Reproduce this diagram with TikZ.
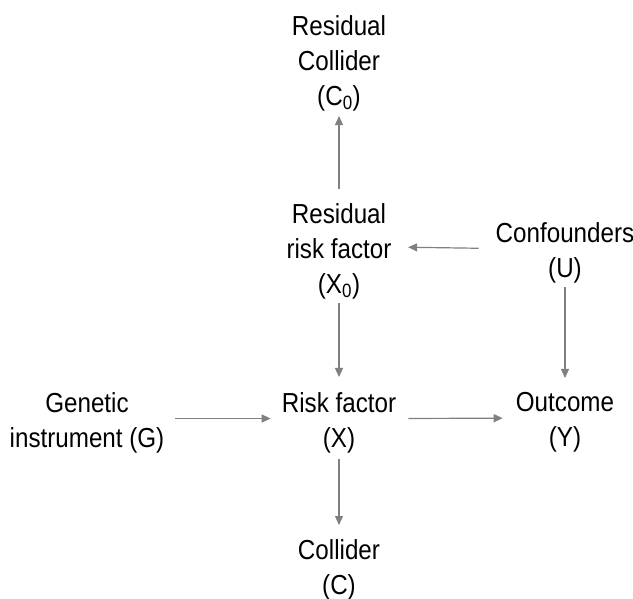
\documentclass[tikz,border=0pt]{standalone}
\usepackage{fontspec}
\setmainfont[FakeStretch=0.88]{Liberation Sans}
\usetikzlibrary{arrows.meta}
\definecolor{arrgray}{RGB}{128,128,128}
\begin{document}
\begin{tikzpicture}[x=1pt,y=-1pt,
  lbl/.style={align=center,inner sep=0pt,anchor=north,font=\fontsize{27.5}{35}\selectfont,text=black},
  arr/.style={draw=arrgray,line width=1.2pt,-{Triangle[length=9pt,width=8pt]}}]
\useasboundingbox[fill=white] (0,0) rectangle (633,599);
\node[lbl] (C0) at (339,15) {Residual\\Collider\\(C\textsubscript{0})};
\node[lbl] (X0) at (339,203) {Residual\\risk factor\\(X\textsubscript{0})};
\node[lbl] (U) at (565,222) {Confounders\\(U)};
\node[lbl] (G) at (87,392) {Genetic\\instrument (G)};
\node[lbl] (X) at (339,392) {Risk factor\\(X)};
\node[lbl] (Y) at (565,392) {Outcome\\(Y)};
\node[lbl] (C) at (339,539) {Collider\\(C)};
\draw[arr,shorten <=14pt,shorten >=5pt] (X0.north) -- (C0.south);
\draw[arr,shorten <=4pt,shorten >=15pt] (X0.south) -- (X.north);
\draw[arr,shorten <=6pt,shorten >=14pt] (X.south) -- (C.north);
\draw[arr,shorten <=4pt,shorten >=14pt] (U.south) -- (Y.north);
\draw[arr,shorten <=17pt,shorten >=16.5pt] ([yshift=4pt]U.west) -- ([yshift=4pt]X0.east);
\draw[arr,shorten <=10.5pt,shorten >=11pt] ([yshift=4pt]G.east) -- ([yshift=4pt]X.west);
\draw[arr,shorten <=12pt,shorten >=13pt] ([yshift=4pt]X.east) -- ([yshift=4pt]Y.west);
\end{tikzpicture}
\end{document}
